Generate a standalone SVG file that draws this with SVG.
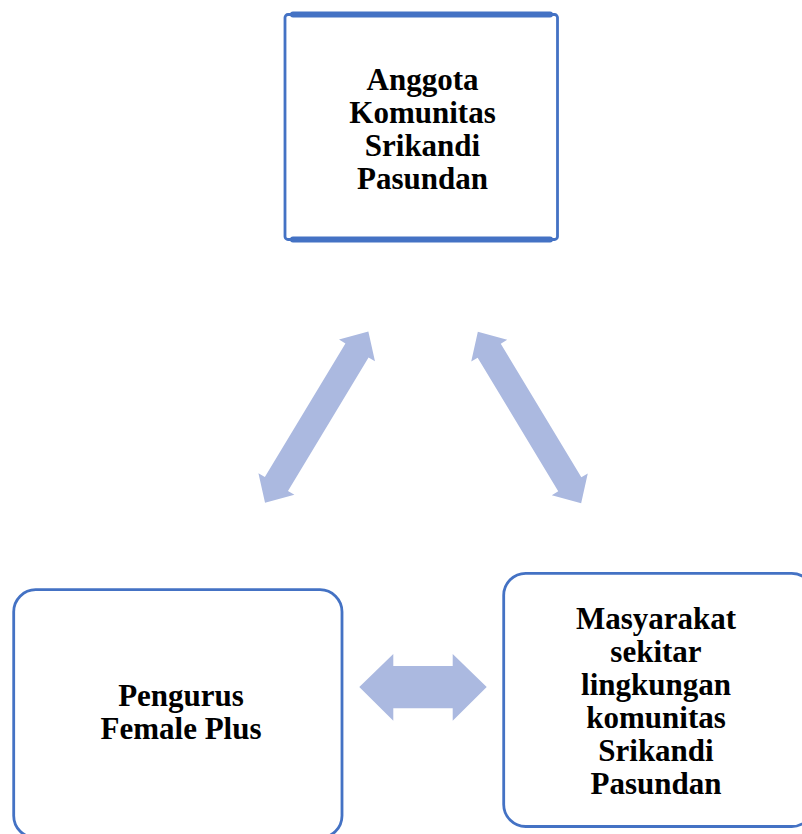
<svg xmlns="http://www.w3.org/2000/svg" width="802" height="834" viewBox="0 0 802 834">
  <style>
    .box { fill: #ffffff; stroke: #4472C4; stroke-width: 2.8; }
    .edge { stroke: #4472C4; stroke-width: 6; stroke-linecap: round; fill: none; }
    .arrow { fill: #ABB9E0; stroke: none; }
    .label { font-family: "Liberation Serif", "Times New Roman", serif; font-weight: bold; font-size: 31px; fill: #000000; text-anchor: middle; }
  </style>
  <defs>
    <polygon id="darrow" points="100,0 78,-21 78,-13.5 -78,-13.5 -78,-21 -100,0 -78,21 -78,13.5 78,13.5 78,21"/>
  </defs>
  <rect width="802" height="834" fill="#ffffff"/>

  <g id="connectors">
    <use href="#darrow" class="arrow" transform="translate(316.7,417.2) rotate(-58.9)"/>
    <use href="#darrow" class="arrow" transform="translate(529.5,417.5) rotate(58.9)"/>
    <polygon class="arrow" points="359.3,687 393.3,654 393.3,666 452.7,666 452.7,654 486.7,687 452.7,720.7 452.7,708.3 393.3,708.3 393.3,720.7"/>
  </g>

  <g id="node-anggota">
    <rect class="box" x="285" y="14.5" width="272.5" height="225" rx="3"/>
    <line class="edge" x1="293" y1="14.5" x2="550" y2="14.5"/>
    <line class="edge" x1="293" y1="239.5" x2="550" y2="239.5"/>
    <text class="label" x="422.5" y="90">Anggota</text>
    <text class="label" x="422.5" y="123">Komunitas</text>
    <text class="label" x="422.5" y="156">Srikandi</text>
    <text class="label" x="422.5" y="189">Pasundan</text>
  </g>

  <g id="node-pengurus">
    <rect class="box" x="13.7" y="589.7" width="328.3" height="248" rx="22"/>
    <text class="label" x="181" y="706">Pengurus</text>
    <text class="label" x="181" y="739">Female Plus</text>
  </g>

  <g id="node-masyarakat">
    <rect class="box" x="503.7" y="573.3" width="310" height="253.2" rx="22"/>
    <text class="label" x="656" y="629">Masyarakat</text>
    <text class="label" x="656" y="662">sekitar</text>
    <text class="label" x="656" y="695">lingkungan</text>
    <text class="label" x="656" y="728">komunitas</text>
    <text class="label" x="656" y="761">Srikandi</text>
    <text class="label" x="656" y="794">Pasundan</text>
  </g>
</svg>
